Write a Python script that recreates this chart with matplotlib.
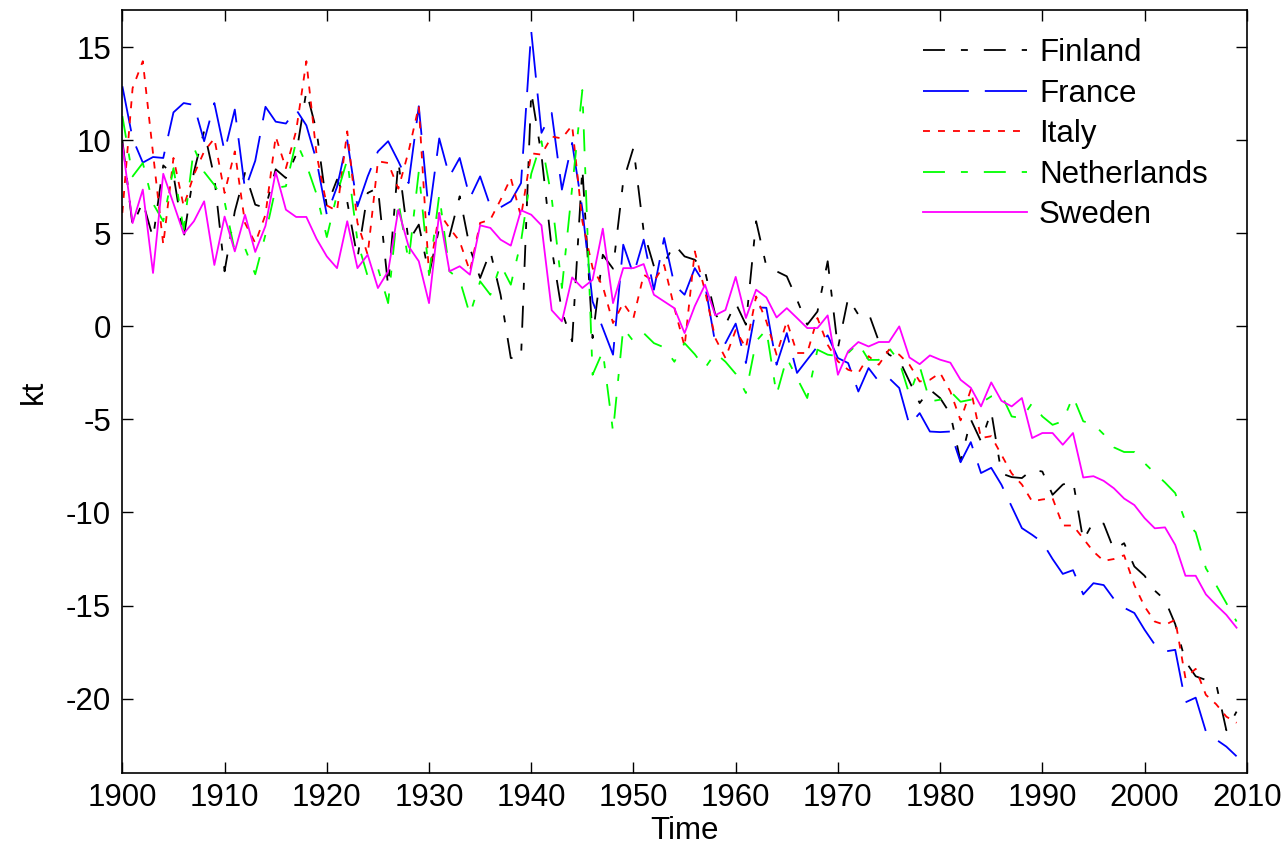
import matplotlib
matplotlib.use('Agg')
import matplotlib.pyplot as plt
import numpy as np

# yearly values, 1900-2009
years = list(range(1900, 2010))

finland = [10.0, 5.4, 6.7, 4.75, 8.65, 8.15, 4.75, 8.3, 10.5, 8.0,
           2.96, 6.18, 8.25, 6.54, 6.36, 8.44, 7.97, 9.23, 12.64, 10.5,
           6.45, 7.89, 6.7, 3.67, 7.17, 7.44, 2.15, 8.87, 4.57, 5.47,
           2.78, 5.29, 4.84, 6.99, 4.21, 2.6, 4.03, 1.7, -1.7, -1.7,
           12.6, 9.2, 4.2, 0.8, -0.8, 8.5, -0.63, 3.85, 3.1, 7.8,
           9.6, 5.1, 3.23, 3.4, 4.4, 3.76, 3.58, 2.96, 0.63, 0.09,
           1.25, 0.09, 5.65, 3.23, 2.96, 2.69, 1.43, 0.09, 0.8, 3.5,
           -1.17, 1.52, 0.63, 0.72, -0.8, -1.52, -1.8, -2.96, -4.12, -3.4,
           -3.85, -4.7, -7.26, -5.0, -6.18, -4.57, -7.9, -8.1, -8.15, -7.7,
           -7.8, -9.05, -8.5, -8.3, -11.5, -10.5, -10.6, -12.0, -11.65, -12.9,
           -13.4, -14.2, -14.7, -16.0, -18.0, -18.8, -19.0, -19.2, -21.7, -20.7]

france = [12.9, 10.1, 8.8, 9.1, 9.05, 11.5, 12.0, 11.9, 9.95, 12.0,
          9.4, 11.65, 7.35, 8.9, 11.8, 11.0, 10.9, 11.65, 10.8, 8.9,
          6.0, 7.5, 10.0, 6.45, 8.06, 9.4, 9.95, 8.87, 7.7, 11.83,
          6.0, 10.1, 8.06, 9.05, 6.9, 8.06, 6.45, 6.4, 6.72, 7.7,
          15.86, 10.4, 11.47, 7.35, 9.86, 6.3, 1.34, -0.09, -1.52, 4.39,
          2.78, 4.66, 1.97, 4.75, 2.24, 1.7, 3.13, 2.24, -0.9, -0.9,
          0.15, -1.97, 1.02, 1.0, -2.06, -0.36, -2.5, -1.79, -1.08, -0.48,
          -1.7, -1.97, -3.5, -2.24, -2.96, -2.78, -3.31, -5.3, -4.66, -5.65,
          -5.68, -5.65, -7.3, -6.22, -7.88, -7.6, -8.51, -9.68, -10.84, -11.2,
          -11.6, -12.5, -13.3, -13.1, -14.4, -13.8, -13.9, -14.65, -15.12, -15.4,
          -16.3, -17.1, -17.47, -17.38, -20.2, -19.95, -21.77, -22.2, -22.58, -23.1]

italy = [6.1, 12.8, 14.25, 9.3, 4.4, 9.05, 6.45, 8.15, 9.4, 10.1,
         7.17, 9.4, 5.55, 4.48, 6.0, 10.2, 8.5, 10.5, 14.25, 9.23,
         6.5, 6.2, 10.48, 5.56, 3.85, 8.87, 8.78, 7.4, 9.4, 11.83,
         2.78, 6.09, 5.29, 4.57, 2.96, 5.56, 5.74, 6.8, 7.97, 5.9,
         9.3, 9.23, 10.2, 10.1, 10.8, 5.65, 3.14, 2.15, 0.18, 1.25,
         0.45, 2.78, 2.42, 3.3, 1.0, -1.08, 4.03, 1.9, -0.63, -1.7,
         -0.2, -1.16, 1.61, 0.27, -1.52, 0.27, -1.43, -1.43, 0.45, -0.99,
         -1.88, -2.33, -2.5, -1.6, -2.06, -1.25, -1.52, -2.06, -2.96, -2.87,
         -2.5, -3.5, -5.05, -3.4, -6.0, -5.9, -6.9, -7.9, -8.5, -9.4,
         -9.3, -9.23, -10.7, -10.7, -11.4, -12.1, -12.6, -12.5, -12.3, -13.9,
         -15.05, -15.86, -16.04, -15.77, -18.9, -18.4, -19.8, -20.3, -20.97, -21.3]

netherlands = [11.3, 8.06, 8.78, 6.6, 5.65, 8.5, 5.2, 9.6, 8.3, 7.6,
               6.7, 4.03, 4.2, 2.8, 4.93, 7.44, 7.53, 9.95, 8.7, 7.1,
               4.8, 7.1, 8.96, 4.57, 2.69, 3.13, 1.25, 6.72, 3.5, 8.33,
               2.78, 7.07, 2.96, 2.5, 0.63, 2.42, 1.7, 3.32, 2.24, 4.57,
               8.2, 9.95, 6.9, 2.06, 7.44, 12.7, -2.6, -1.34, -5.65, -0.09,
               -0.8, -0.36, -0.9, -1.13, -1.9, -0.9, -1.5, -2.24, -1.43, -1.9,
               -2.55, -3.58, -0.8, -0.18, -3.67, -1.7, -2.78, -3.85, -1.25, -1.52,
               -1.6, -1.43, -0.9, -1.8, -1.8, -1.16, -1.88, -3.67, -2.15, -4.03,
               -3.94, -3.49, -4.05, -3.94, -4.12, -3.76, -3.67, -4.84, -4.93, -4.12,
               -4.84, -5.29, -5.1, -3.76, -5.1, -5.25, -5.8, -6.5, -6.75, -6.75,
               -7.35, -7.88, -8.39, -8.96, -10.5, -11.06, -13.0, -13.9, -14.87, -15.86]

sweden = [9.8, 5.55, 7.35, 2.87, 8.2, 6.6, 4.98, 5.65, 6.72, 3.3,
          5.9, 4.03, 6.0, 4.0, 5.4, 8.3, 6.27, 5.88, 5.88, 4.7,
          3.76, 3.13, 5.65, 3.13, 3.85, 2.06, 2.96, 6.27, 4.3, 3.5,
          1.25, 6.1, 2.96, 3.23, 2.78, 5.43, 5.29, 4.66, 4.34, 6.24,
          6.0, 5.43, 0.87, 0.27, 2.63, 2.06, 2.5, 5.25, 1.25, 3.13,
          3.13, 3.35, 1.7, 1.34, 0.98, -0.36, 1.09, 2.24, 0.6, 0.88,
          2.66, 0.45, 1.97, 1.56, 0.48, 0.98, 0.45, -0.09, -0.09, 0.59,
          -2.6, -1.34, -0.84, -1.08, -0.84, -0.84, 0.0, -1.67, -2.03, -1.56,
          -1.79, -1.95, -2.87, -3.3, -4.3, -3.01, -4.0, -4.3, -3.85, -6.0,
          -5.73, -5.73, -6.36, -5.73, -8.12, -8.05, -8.3, -8.7, -9.25, -9.6,
          -10.3, -10.85, -10.8, -11.74, -13.4, -13.4, -14.4, -14.97, -15.5, -16.19]

plt.rcParams['font.family'] = ['Liberation Sans', 'DejaVu Sans']
plt.rcParams['lines.scale_dashes'] = False
plt.rcParams['axes.unicode_minus'] = False

fs = 22.5

fig = plt.figure(figsize=(12.88, 8.48), dpi=100)
ax = fig.add_axes([0.095, 0.0884, 0.873, 0.8998])

lw = 1.3
ax.plot(years, finland, color='k', lw=lw, dashes=(15.8, 11.5, 5, 11.5), label='Finland')
ax.plot(years, france, color='b', lw=lw, dashes=(33, 11.5), label='France')
ax.plot(years, italy, color='r', lw=lw, dashes=(5, 5.8), label='Italy')
ax.plot(years, netherlands, color=(0, 1, 0), lw=lw, dashes=(15.8, 11.5, 5, 11.5), label='Netherlands')
ax.plot(years, sweden, color=(1, 0, 1), lw=lw, label='Sweden')

ax.set_xlim(1900, 2010)
ax.set_ylim(-24, 17)
ax.set_xticks(range(1900, 2011, 10))
ax.set_yticks(range(-20, 16, 5))

ax.tick_params(direction='in', length=8, width=1, top=True, right=True,
               labelsize=fs, colors='k')
ax.tick_params(axis='x', pad=7)
ax.tick_params(axis='y', pad=8)
for s in ax.spines.values():
    s.set_linewidth(1.2)

ax.set_xlabel('Time', fontsize=fs, labelpad=2)
ax.set_ylabel('kt', fontsize=fs, labelpad=12)

ax.legend(loc='upper left', bbox_to_anchor=(0.7166, 0.955), bbox_transform=fig.transFigure,
          frameon=False, fontsize=fs, handlelength=3.33, handletextpad=0.38,
          labelspacing=0.335, borderpad=0, borderaxespad=0)

fig.savefig('out.png', dpi=100)
